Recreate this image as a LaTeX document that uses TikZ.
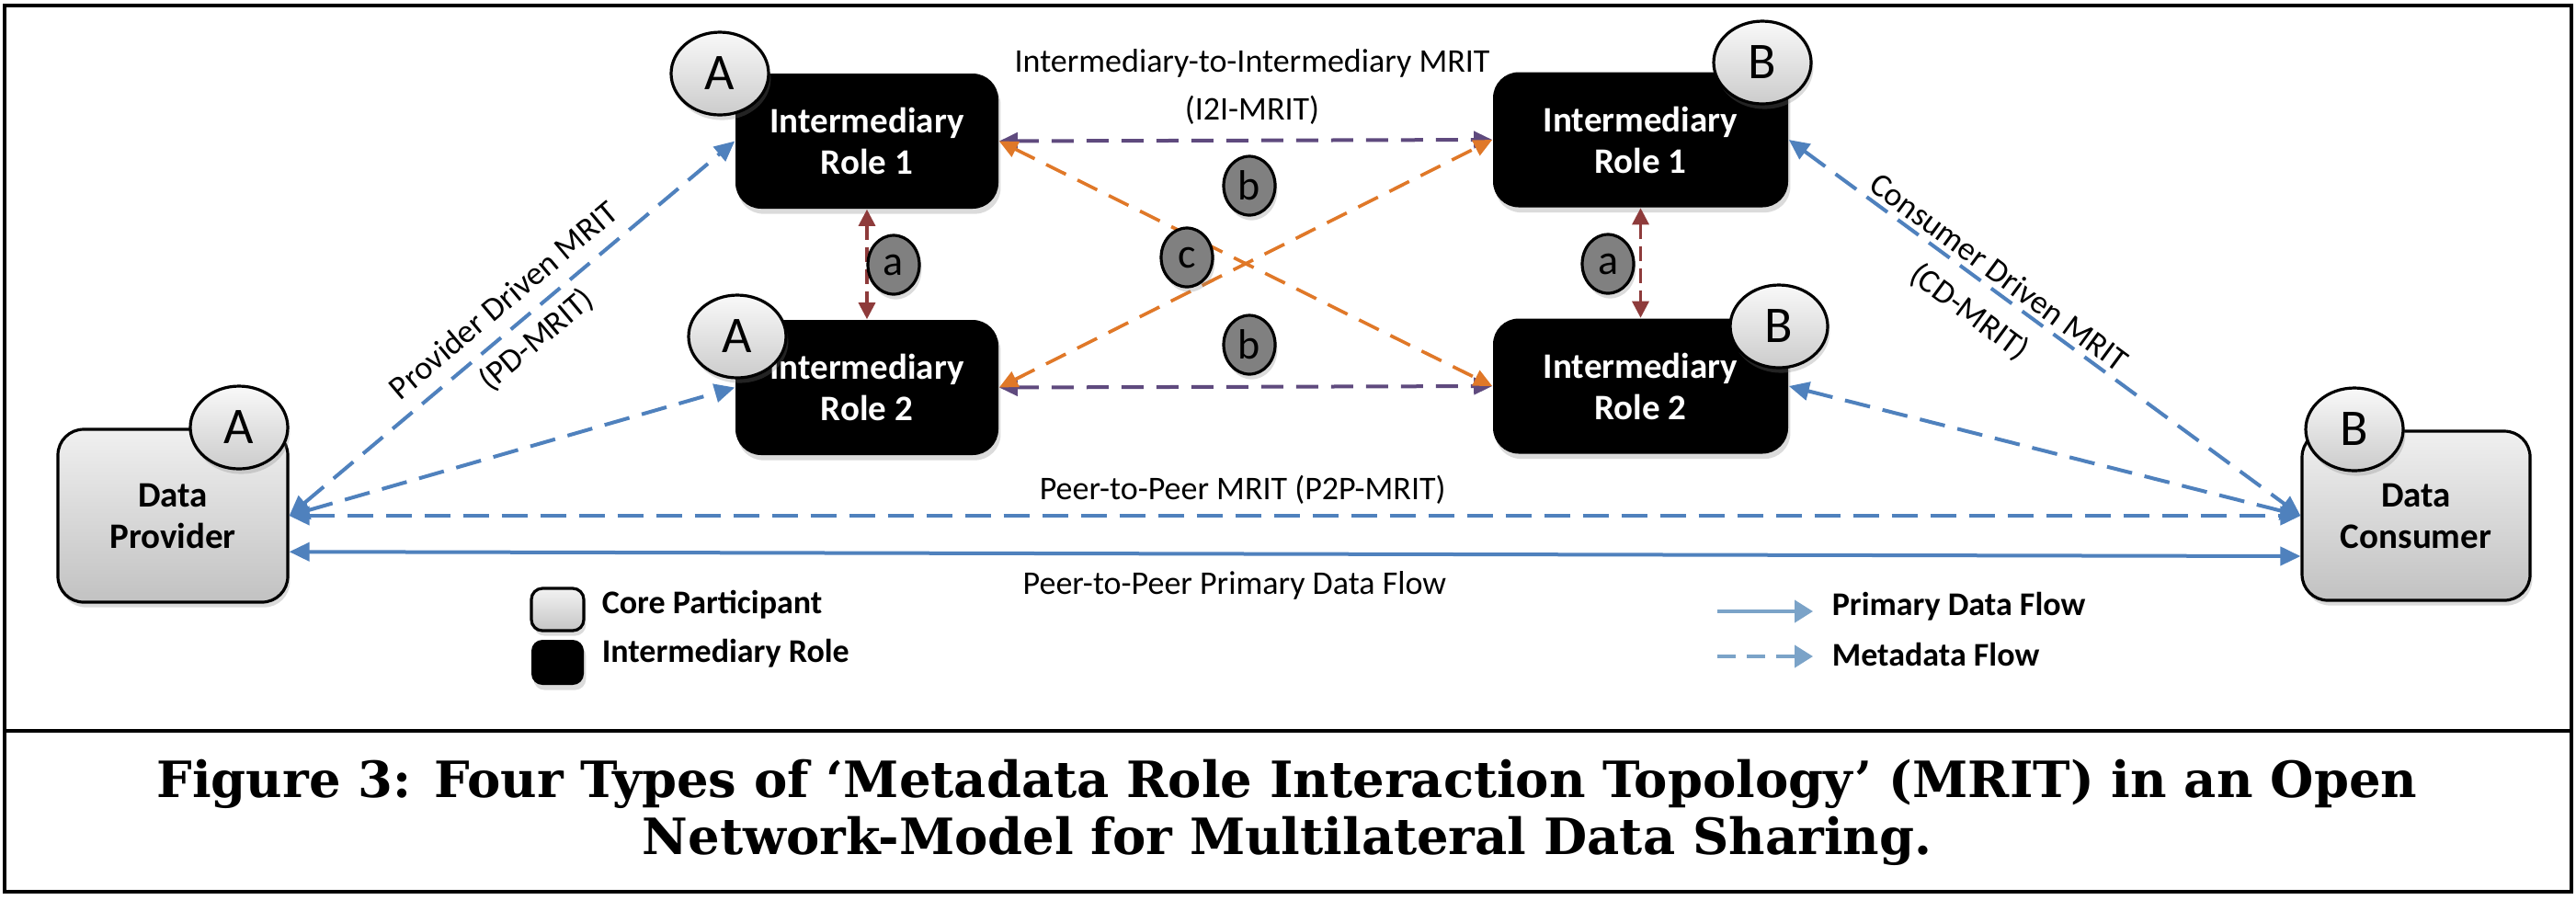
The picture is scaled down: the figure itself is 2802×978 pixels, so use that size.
\documentclass[tikz,border=0pt]{standalone}
\usepackage{fontspec}
\setmainfont{Carlito}
\newfontfamily\capfont{DejaVu Serif}
\usetikzlibrary{arrows.meta,shapes.geometric,shadows}
\definecolor{mblue}{HTML}{4F81BD}
\definecolor{legblue}{HTML}{7BA3C8}
\definecolor{purp}{HTML}{5F4A7E}
\definecolor{orng}{HTML}{E07828}
\definecolor{brwn}{HTML}{8E3B3B}
\begin{document}
\begin{tikzpicture}[x=0.25pt,y=-0.25pt,
  shd/.style={drop shadow={opacity=0.28,shadow xshift=0.6pt,shadow yshift=-1.4pt}},
  core/.style={draw=black,line width=0.8pt,rounded corners=7pt,top color=gray!12,bottom color=gray!48,
    align=center,font=\bfseries\fontsize{9.75}{11.25}\selectfont,shd},
  inter/.style={fill=black,rounded corners=7pt,text=white,align=center,
    font=\bfseries\fontsize{9.75}{11.25}\selectfont,minimum height=36.75pt,shd},
  badge/.style={ellipse,draw=black,line width=0.8pt,top color=gray!5,bottom color=gray!40,
    minimum width=26.5pt,minimum height=22.5pt,inner sep=0pt,font=\fontsize{14}{14}\selectfont,shd},
  lbadge/.style={ellipse,draw=black,line width=0.8pt,fill=gray,minimum width=14pt,minimum height=16pt,
    inner sep=0pt,font=\fontsize{11.5}{11.5}\selectfont,shd},
  lbl/.style={inner sep=0pt,align=center,font=\fontsize{9}{13.75}\selectfont},
  legtxt/.style={inner sep=0pt,anchor=west,font=\bfseries\fontsize{9}{11}\selectfont},
  btip/.style={{Triangle[length=5.5pt,width=5pt]}-{Triangle[length=5.5pt,width=5pt]}},
  meta/.style={draw=mblue,line width=1pt,dash pattern=on 7pt off 3.5pt,btip},
  prim/.style={draw=mblue,line width=1pt,btip},
  i2i/.style={draw=purp,line width=1pt,dash pattern=on 6pt off 3.5pt,
    {Triangle[length=5pt,width=4.5pt]}-{Triangle[length=5pt,width=4.5pt]}},
  cross/.style={draw=orng,line width=0.9pt,dash pattern=on 6pt off 3.5pt,
    {Triangle[length=5pt,width=4.5pt]}-{Triangle[length=5pt,width=4.5pt]}},
  vert/.style={draw=brwn,line width=0.8pt,dash pattern=on 4pt off 2pt,
    {Triangle[length=4.5pt,width=4.5pt]}-{Triangle[length=4.5pt,width=4.5pt]}},
  legarrow/.style={draw=legblue,line width=1pt,-{Triangle[length=5pt,width=6pt]}}
]
\useasboundingbox (0,0) rectangle (2802,978);
\fill[white] (0,0) rectangle (2802,978);
\draw[line width=1pt] (5,6) rectangle (2797,970);
\draw[line width=1pt] (5,795) -- (2797,795);

% main boxes
\node[core,minimum width=62.5pt,minimum height=47pt] (prov) at (188,561) {Data\\Provider};
\node[core,minimum width=62pt,minimum height=46pt] (cons) at (2628,561) {Data\\Consumer};
\node[inter,minimum width=71.5pt] (iA1) at (943,153.5) {Intermediary\\Role 1};
\node[inter,minimum width=71.5pt] (iA2) at (943,421.5) {Intermediary\\Role 2};
\node[inter,minimum width=80.25pt] (iB1) at (1784.5,152) {Intermediary\\Role 1};
\node[inter,minimum width=80.25pt] (iB2) at (1784.5,420) {Intermediary\\Role 2};

% title of I2I
\node[lbl,font=\fontsize{9}{13}\selectfont] (i2ilbl) at (1362,94) {Intermediary-to-Intermediary MRIT\\(I2I-MRIT)};

% connectors
\draw[meta] (prov.east) -- node[lbl,sloped,pos=0.52] (pdlbl) {Provider Driven MRIT\\(PD-MRIT)} (iA1.west);
\draw[meta] (prov.east) -- (iA2.west);
\draw[meta] (iB1.east) -- node[lbl,sloped,pos=0.39,yshift=-2.3pt,font=\fontsize{9}{13.25}\selectfont] (cdlbl) {Consumer Driven MRIT\\(CD-MRIT)} (cons.west);
\draw[meta] (iB2.east) -- (cons.west);
\draw[meta] (prov.east) -- node[lbl,pos=0.474,yshift=7pt] (p2plbl) {Peer-to-Peer MRIT (P2P-MRIT)} (cons.west);
\draw[prim] ([yshift=-9.8pt]prov.east) -- node[lbl,pos=0.47,yshift=-8.5pt] (primlbl) {Peer-to-Peer Primary Data Flow} ([yshift=-11pt]cons.west);

\draw[i2i] (iA1.east) -- (iB1.west);
\draw[i2i] (iA2.east) -- (iB2.west);
\draw[cross] (iA1.east) -- (iB2.west);
\draw[cross] (iA2.east) -- (iB1.west);
\draw[vert] (iA1.south) -- (iA2.north);
\draw[vert] (iB1.south) -- (iB2.north);

% small letter badges
\node[lbadge] (aL) at (972,288) {a};
\node[lbadge] (aR) at (1749,287) {a};
\node[lbadge] (bT) at (1359,202) {b};
\node[lbadge] (bB) at (1359,375) {b};
\node[lbadge] (cC) at (1291,280) {c};

% participant badges
\node[badge] (bProv) at (260,465) {A};
\node[badge] (bA1) at (783,80) {A};
\node[badge] (bA2) at (802,366) {A};
\node[badge] (bB1) at (1917,68) {B};
\node[badge] (bB2) at (1935,355) {B};
\node[badge] (bCons) at (2561,467) {B};

% legend
\node[draw=black,line width=0.8pt,rounded corners=3pt,top color=gray!10,bottom color=gray!45,
  minimum width=14.25pt,minimum height=11.5pt,inner sep=0pt,shd] (lgcore) at (606.5,663) {};
\node[fill=black,rounded corners=3pt,minimum width=14.25pt,minimum height=12.25pt,inner sep=0pt,shd] (lginter) at (606.5,720.5) {};
\node[legtxt] (lgcoretxt) at (654,658) {Core Participant};
\node[legtxt] (lgintertxt) at (654,711) {Intermediary Role};

\coordinate (lp1) at (1868,665);
\coordinate (lp2) at (1972,665);
\coordinate (lm1) at (1868,714);
\coordinate (lm2) at (1972,714);
\draw[legarrow] (lp1) -- (lp2);
\draw[legarrow,dash pattern=on 5pt off 3pt] (lm1) -- (lm2);
\node[legtxt] (lgprim) at (1992,660) {Primary Data Flow};
\node[legtxt] (lgmeta) at (1992,712) {Metadata Flow};

% caption
\node[align=center,inner sep=0pt,font=\capfont\bfseries\fontsize{13.6}{15.5}\selectfont] (cap) at (1400,884)
  {Figure 3: Four Types of ‘Metadata Role Interaction Topology’ (MRIT) in an Open\\Network-Model for Multilateral Data Sharing.};
\end{tikzpicture}
\end{document}
